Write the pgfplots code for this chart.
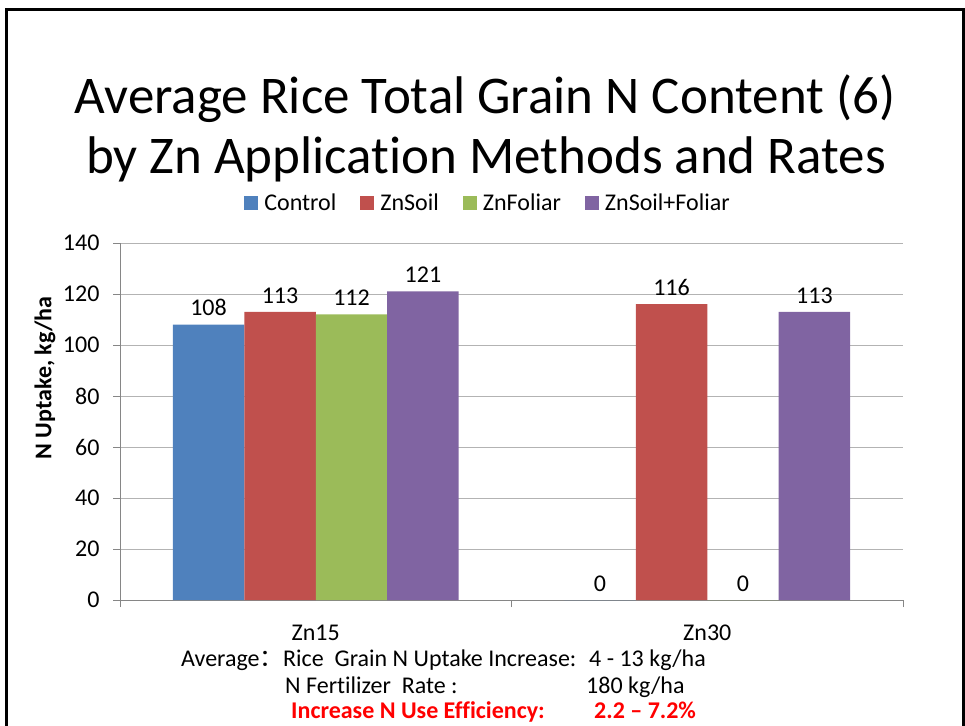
\documentclass[border=0pt]{standalone}
\usepackage{pgfplots}
\pgfplotsset{compat=1.18}
\usepackage{fontspec}
\setmainfont[Ligatures=CommonOff]{Carlito}
\newfontfamily\cjk{Noto Sans CJK SC}
\definecolor{cCtrl}{HTML}{4F81BD}
\definecolor{cSoil}{HTML}{C0504D}
\definecolor{cFol}{HTML}{9BBB59}
\definecolor{cBoth}{HTML}{8064A2}
\definecolor{gridc}{HTML}{B3B3B3}
\definecolor{axc}{HTML}{868686}
\begin{document}
\begin{tikzpicture}[x=1pt,y=1pt]
\useasboundingbox (0,0) rectangle (965,-725);
\draw[line width=3.5pt] (6.5,-730) -- (6.5,-9.5) -- (963.5,-9.5) -- (963.5,-730);
\node[anchor=base, inner sep=0pt, font=\fontsize{53}{60}\selectfont] at (485,-113) {Average Rice Total Grain N Content (6)};
\node[anchor=base, inner sep=0pt, font=\fontsize{53}{60}\selectfont] at (486,-173) {by Zn Application Methods and Rates};
\begin{axis}[
  at={(120pt,-600pt)}, anchor=south west,
  scale only axis, width=783pt, height=357pt,
  xmin=-0.5, xmax=1.5, ymin=0, ymax=140,
  ytick={0,20,...,140},
  xtick={-0.5,0.5,1.5}, xticklabels={},
  extra x ticks={0,1}, extra x tick labels={Zn15,Zn30},
  extra x tick style={major tick length=0pt, xticklabel style={anchor=base, yshift=-40pt}},
  tick align=outside, major tick length=7pt,
  axis lines*=left,
  axis line style={draw=axc, line width=1pt},
  tick style={draw=axc, line width=1pt},
  ymajorgrids, grid style={draw=gridc, line width=1pt},
  /pgf/number format/assume math mode=true,
  tick label style={font=\fontsize{24}{28}\selectfont},
  yticklabel style={xshift=-10pt},
  ybar, bar width=0.1826,
  every axis plot/.append style={draw=none},
  nodes near coords,
  every node near coord/.append style={font=\fontsize{24}{28}\selectfont, color=black, yshift=5pt},
  legend columns=4,
  legend style={draw=none, fill=none, at={(0.47,1.112)}, anchor=center,
    font=\fontsize{24}{28}\selectfont,
    /tikz/every odd column/.append style={column sep=4pt},
    /tikz/every even column/.append style={column sep=22pt}},
  legend image code/.code={\fill[#1] (0pt,-7pt) rectangle (14pt,7pt);},
]
\addplot[fill=cCtrl, bar shift=-0.2739] coordinates {(0,108) (1,0)};
\addplot[fill=cSoil, bar shift=-0.0913] coordinates {(0,113) (1,116)};
\addplot[fill=cFol, bar shift=0.0913] coordinates {(0,112) (1,0)};
\addplot[fill=cBoth, bar shift=0.2739] coordinates {(0,121) (1,113)};
\legend{Control, ZnSoil, ZnFoliar, ZnSoil+Foliar}
\end{axis}
\node[rotate=90, font=\bfseries\fontsize{24}{28}\selectfont] at (45,-378) {N Uptake, kg/ha};
\begin{scope}[every node/.style={anchor=base west, inner sep=0pt, font=\fontsize{24}{28}\selectfont}]
\node at (181,-666) {Average{\cjk ：}};
\node at (283,-666) {Rice\ \ Grain N Uptake Increase:};
\node at (589,-666) {4 - 13 kg/ha};
\node at (285,-693) {N Fertilizer\ \ Rate :};
\node at (586,-693) {180 kg/ha};
\node[font=\bfseries\fontsize{24}{28}\selectfont, text=red] at (291,-718) {Increase N Use Efficiency:};
\node[font=\bfseries\fontsize{24}{28}\selectfont, text=red] at (594,-718) {2.2 – 7.2\%};
\end{scope}
\end{tikzpicture}
\end{document}
